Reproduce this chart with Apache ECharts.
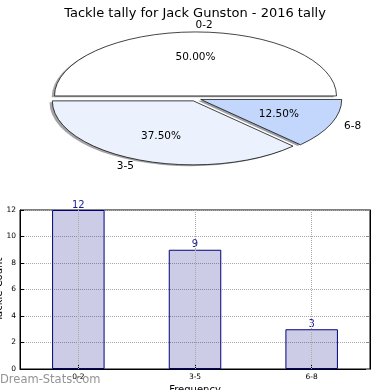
<!DOCTYPE html>
<html>
<head>
<meta charset="utf-8">
<script src="https://cdn.jsdelivr.net/npm/echarts@6/dist/echarts.min.js"></script>
<style>html,body{margin:0;padding:0;background:#fff}#c{width:390px;height:390px}</style>
</head>
<body>
<div id="c"></div>
<script>
const chartTitle = 'Tackle tally for Jack Gunston - 2016 tally';
const pieLabels = ['0-2', '3-5', '6-8'];
const pieValues = [12, 9, 3];
const pieColors = ['#ffffff', '#ebf1fd', '#c3d7fd'];
const pieExplode = [0.04, 0.04, 0.04];
const barCategories = ['0-2', '3-5', '6-8'];
const barValues = [12, 9, 3];
const yMin = 0, yMax = 12, yStep = 2;

const FONT = 'DejaVu Sans';
const CX = 195.5, CY = 98.5, RX = 141, RY = 64;
const total = pieValues.reduce((a, b) => a + b, 0);

function shadeColor(hex) {
  const n = parseInt(hex.slice(1), 16);
  const r = Math.round(((n >> 16) & 255) * 0.3), g = Math.round(((n >> 8) & 255) * 0.3), b = Math.round((n & 255) * 0.3);
  return 'rgba(' + r + ',' + g + ',' + b + ',0.5)';
}

function renderPie(params, api) {
  const i = params.dataIndex;
  let before = 0;
  for (let k = 0; k < i; k++) before += pieValues[k];
  const v = api.value(0);
  const a0 = before / total * Math.PI * 2;
  const a1 = (before + v) / total * Math.PI * 2;
  const mid = (a0 + a1) / 2;
  const e = pieExplode[i];
  const ox = CX + e * RX * Math.cos(mid);
  const oy = CY - e * RY * Math.sin(mid);
  const sy = RY / RX;
  function sector(x, y, fill, stroke, z2) {
    return {
      type: 'sector', x: x, y: y, scaleX: 1, scaleY: sy, z2: z2,
      shape: { cx: 0, cy: 0, r0: 0, r: RX, startAngle: -a0, endAngle: -a1, clockwise: false },
      style: { fill: fill, stroke: stroke, lineWidth: stroke ? 1 : 0, strokeNoScale: true }
    };
  }
  const c = Math.cos(mid), s = Math.sin(mid);
  return {
    type: 'group',
    children: [
      sector(ox - 0.02 * RX, oy + 0.02 * RY, shadeColor(pieColors[i]), null, 1),
      sector(ox, oy, pieColors[i], '#000', 10),
      {
        type: 'text', z2: 20,
        style: {
          x: ox + 0.6 * RX * c, y: oy - 0.6 * RY * s,
          text: (v / total * 100).toFixed(2) + '%',
          fill: '#000', font: '10.5px "' + FONT + '"', align: 'center', verticalAlign: 'middle'
        }
      },
      {
        type: 'text', z2: 20,
        style: {
          x: ox + 1.1 * RX * c, y: oy - 1.1 * RY * s,
          text: pieLabels[i],
          fill: '#000', font: '10.5px "' + FONT + '"', align: c > 0 ? 'left' : 'right', verticalAlign: 'middle'
        }
      }
    ]
  };
}

const chart = echarts.init(document.getElementById('c'), null, { renderer: 'canvas' });
chart.setOption({
  animation: false,
  backgroundColor: '#fff',
  textStyle: { fontFamily: FONT },
  title: {
    text: chartTitle, left: 'center', top: 2,
    textStyle: { fontFamily: FONT, fontSize: 13, fontWeight: 'normal', color: '#000' }
  },
  graphic: [{
    type: 'text', left: 0, top: 374, z: 100,
    style: { text: 'Dream-Stats.com', fill: 'rgba(120,120,120,0.8)', font: '11.5px "' + FONT + '"' }
  }],
  grid: {
    left: 20, right: 20, top: 210, bottom: 21, containLabel: false, outerBoundsMode: 'none',
    show: true, borderColor: '#000', borderWidth: 1, backgroundColor: 'transparent'
  },
  xAxis: [{
    type: 'category', data: barCategories, boundaryGap: true,
    axisLine: { show: true, lineStyle: { color: '#000', width: 1 } },
    axisTick: { show: true, inside: true, alignWithLabel: true, length: 4, lineStyle: { color: '#000' } },
    axisLabel: { fontSize: 7.5, color: '#000', margin: 4, fontFamily: FONT },
    splitLine: { show: false },
    name: 'Frequency', nameLocation: 'middle', nameGap: 16, nameMoveOverlap: false,
    nameTextStyle: { fontSize: 10, color: '#000', fontFamily: FONT }
  }],
  yAxis: [{
    type: 'value', min: yMin, max: yMax, interval: yStep,
    axisLine: { show: true, lineStyle: { color: '#000', width: 1 } },
    axisTick: { show: true, inside: true, length: 4, lineStyle: { color: '#000' } },
    axisLabel: { fontSize: 7.5, color: '#000', margin: 4, fontFamily: FONT },
    splitLine: { show: true, lineStyle: { color: '#aaa', type: 'dotted', width: 1 } },
    name: 'Tackle Count', nameLocation: 'middle', nameGap: 16, nameRotate: 90, nameMoveOverlap: false,
    nameTextStyle: { fontSize: 10, color: '#000', fontFamily: FONT }
  }, {
    type: 'value', min: yMin, max: yMax, interval: yStep, position: 'right',
    axisLine: { show: true, lineStyle: { color: '#000', width: 1 } },
    axisTick: { show: true, inside: true, length: 4, lineStyle: { color: '#888' } },
    axisLabel: { show: false }, splitLine: { show: false }
  }],
  series: [{
    type: 'custom', coordinateSystem: 'none', renderItem: renderPie,
    data: pieValues.map(v => [v]), silent: true
  }, {
    type: 'bar', data: barValues, barWidth: '45%', xAxisIndex: 0, yAxisIndex: 0,
    itemStyle: { color: 'rgba(0,0,128,0.2)', borderColor: '#000080', borderWidth: 1 },
    label: { show: true, position: 'top', distance: 0, color: '#1c1c9a', fontSize: 10, fontFamily: FONT },
    markLine: {
      silent: true, symbol: 'none', label: { show: false },
      lineStyle: { color: '#aaa', type: 'dotted', width: 1 },
      data: barCategories.map(c => ({ xAxis: c }))
    }
  }]
});
</script>
</body>
</html>
